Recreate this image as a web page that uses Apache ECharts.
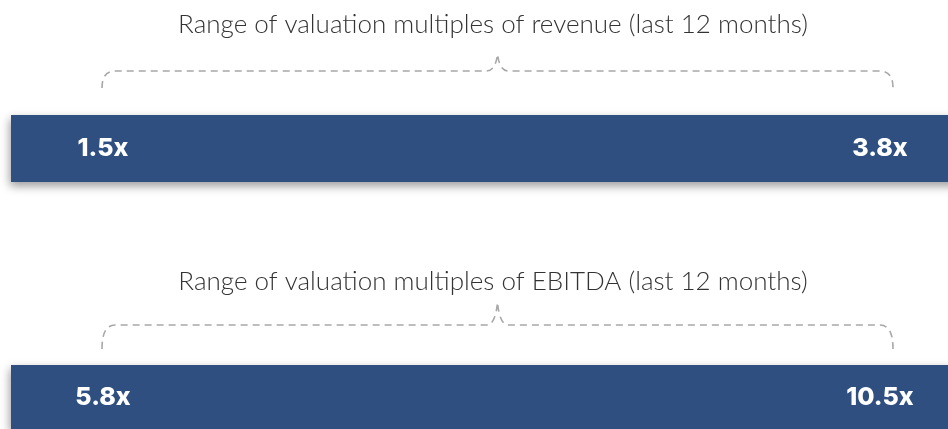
<!DOCTYPE html>
<html>
<head>
<meta charset="utf-8">
<script src="https://cdn.jsdelivr.net/npm/echarts@6/dist/echarts.min.js"></script>
<style>
  html, body { margin: 0; padding: 0; background: #fff; }
  #main { width: 948px; height: 429px; }
</style>
</head>
<body>
<div id="main"></div>
<script>
// data
let titles = ['Range of valuation multiples of revenue (last 12 months)', 'Range of valuation multiples of EBITDA (last 12 months)'];
let lowValues = [1.5, 5.8];
let highValues = [3.8, 10.5];

// layout (pixels)
let barTops = [115, 365];
let barHeight = 67;
let gridLeft = 11;
let pxLow = 102, pxHigh = 893;  // where low / high values land
let braceOffsets = [          // relative to bar top: horizontal, ends, peak
    {h: -44, e: -27, p: -61},
    {h: -40, e: -16, p: -63}
];
let titleTops = [7, 264];

let chart = echarts.init(document.getElementById('main'));

let chartW = 948;

let axisRange = (lo, hi) => {
    let unit = (hi - lo) / (pxHigh - pxLow);
    return {
        min: lo - (pxLow - gridLeft) * unit,
        max: hi + (chartW - pxHigh) * unit
    };
};

let renderRow = (row) => (params, api) => {
    let cs = params.coordSys;
    let lo = api.value(0), hi = api.value(1);
    let x0 = api.coord([lo, 0.5])[0];
    let x1 = api.coord([hi, 0.5])[0];
    let xm = (x0 + x1) / 2;
    let b = braceOffsets[row];
    let yH = cs.y + b.h, yE = cs.y + b.e, yP = cs.y + b.p;
    let r = 13;
    let path = 'M' + x0 + ' ' + yE +
        ' Q' + x0 + ' ' + yH + ' ' + (x0 + r) + ' ' + yH +
        ' L' + (xm - 11) + ' ' + yH +
        ' Q' + (xm - 2) + ' ' + yH + ' ' + xm + ' ' + yP +
        ' Q' + (xm + 2) + ' ' + yH + ' ' + (xm + 11) + ' ' + yH +
        ' L' + (x1 - r) + ' ' + yH +
        ' Q' + x1 + ' ' + yH + ' ' + x1 + ' ' + yE;
    let yMid = cs.y + cs.height / 2;
    let labelStyle = {
        fill: '#fff',
        fontFamily: 'Inter',
        fontWeight: 800,
        fontSize: 25,
        align: 'center',
        verticalAlign: 'middle'
    };
    return {
        type: 'group',
        children: [
            {
                type: 'rect',
                // bar runs off the right edge
                shape: {x: cs.x, y: cs.y, width: cs.width + 20, height: cs.height},
                style: {
                    fill: '#2E4F80',
                    shadowBlur: 9,
                    shadowColor: 'rgba(0,0,0,0.4)',
                    shadowOffsetX: -1,
                    shadowOffsetY: 4
                }
            },
            {
                type: 'path',
                shape: {pathData: path},
                style: {
                    fill: 'none',
                    stroke: '#a8a8a8',
                    lineWidth: 1.6,
                    lineDash: [7, 5]
                }
            },
            {
                type: 'text',
                style: Object.assign({x: x0 + 1, y: yMid, text: lo.toFixed(1) + 'x'}, labelStyle)
            },
            {
                type: 'text',
                style: Object.assign({x: x1 - 13, y: yMid, text: hi.toFixed(1) + 'x'}, labelStyle)
            }
        ]
    };
};

let option = {
    animation: false,
    title: titles.map((t, i) => ({
        text: t,
        left: 488,
        textAlign: 'center',
        top: titleTops[i],
        textStyle: {
            fontFamily: 'Lato',
            fontWeight: 300,
            fontSize: 26,
            color: '#333'
        }
    })),
    grid: barTops.map(top => ({
        left: gridLeft,
        right: 0,
        top: top,
        height: barHeight
    })),
    xAxis: lowValues.map((lo, i) => Object.assign({
        type: 'value',
        gridIndex: i,
        show: false
    }, axisRange(lo, highValues[i]))),
    yAxis: lowValues.map((lo, i) => ({
        type: 'value',
        gridIndex: i,
        min: 0,
        max: 1,
        show: false
    })),
    series: lowValues.map((lo, i) => ({
        type: 'custom',
        xAxisIndex: i,
        yAxisIndex: i,
        clip: false,
        renderItem: renderRow(i),
        data: [[lo, highValues[i]]]
    }))
};

chart.setOption(option);
</script>
</body>
</html>
